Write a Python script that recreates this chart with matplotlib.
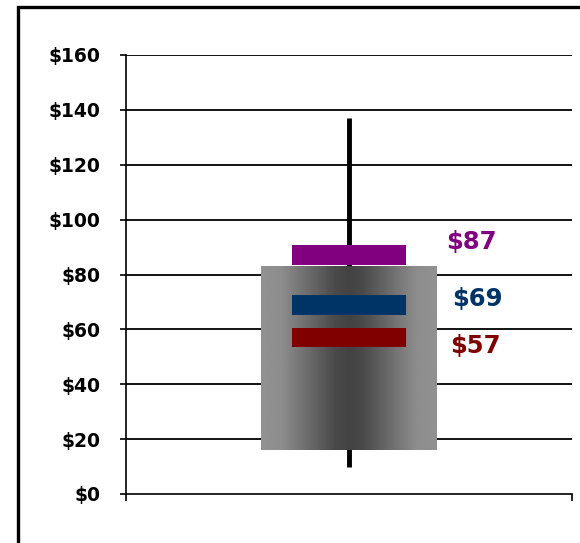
import numpy as np
import matplotlib
matplotlib.use("Agg")
import matplotlib.pyplot as plt
import matplotlib.patches as mpatches
import matplotlib.ticker as mticker

# ── data ──────────────────────────────────────────────────────────────────────
y_ticks = [0, 20, 40, 60, 80, 100, 120, 140, 160]
whisker_low, whisker_high = 10, 137
box_low, box_high = 16, 83
marker_names = ["purple", "blue", "red"]
marker_values = [87, 69, 57]
marker_labels = ["$87", "$69", "$57"]

# ── styling ───────────────────────────────────────────────────────────────────
MARKER_COLORS = ["#800080", "#003366", "#800000"]
LABEL_DY = [5, 2, -3]          # nudge labels so they don't collide
LABEL_X = [0.717, 0.731, 0.726]
CENTER = 0.5
BOX_HALF = 0.197
BAR_HALF = 0.128
BAR_THICK = 3.6

plt.rcParams["font.family"] = ["DejaVu Sans"]

fig = plt.figure(figsize=(5.8, 5.43), dpi=100)
ax = fig.add_axes([126 / 580, 49 / 543, 446 / 580, 439 / 543])

# outer frame (only left/top visible in the reference)
fig.patches.append(mpatches.Rectangle((18 / 580, -0.1), 1.2, 1.1 - 7 / 543,
                                      transform=fig.transFigure, fill=False,
                                      edgecolor="black", lw=2.4, zorder=0))

ax.set_xlim(0, 1)
ax.set_ylim(0, 160)
ax.set_yticks(y_ticks)
ax.yaxis.set_major_formatter(mticker.FuncFormatter(lambda v, _: f"${v:.0f}"))
ax.set_xticks([0, 1])
ax.set_xticklabels([])
ax.tick_params(axis="y", length=4.5, width=1.2, pad=14, labelsize=13.5)
ax.tick_params(axis="x", length=5, width=1.2)
for lab in ax.get_yticklabels():
    lab.set_fontweight("bold")

for s in ("top", "right"):
    ax.spines[s].set_visible(False)
for s in ("left", "bottom"):
    ax.spines[s].set_linewidth(1.2)

for v in y_ticks[1:]:
    ax.axhline(v, color="black", lw=1.3, zorder=1)

# whisker
ax.plot([CENTER, CENTER], [whisker_low, whisker_high], color="black",
        lw=3.5, solid_capstyle="butt", zorder=2)

# gradient box (light edges, dark centre)
gx = np.linspace(0, 1, 200)
grad = np.interp(gx, [0, 0.12, 0.42, 0.5, 0.58, 0.88, 1],
                 [0.57, 0.55, 0.29, 0.26, 0.29, 0.55, 0.57])
ax.imshow(grad[np.newaxis, :], cmap="gray", vmin=0, vmax=1, aspect="auto",
          extent=(CENTER - BOX_HALF, CENTER + BOX_HALF, box_low, box_high),
          zorder=3, interpolation="bilinear")
ax.set_xlim(0, 1)
ax.set_ylim(0, 160)

# marker bars + labels
for val, lab, col, dy, lx in zip(marker_values, marker_labels, MARKER_COLORS, LABEL_DY, LABEL_X):
    ax.add_patch(mpatches.Rectangle((CENTER - BAR_HALF, val - BAR_THICK), 2 * BAR_HALF,
                                    2 * BAR_THICK, facecolor=col, edgecolor="none", zorder=4))
    ax.text(lx, val + dy, lab, color=col, fontsize=17.5, fontweight="bold",
            ha="left", va="center", transform=ax.get_yaxis_transform(), zorder=5)

fig.savefig("out.png", dpi=100)
